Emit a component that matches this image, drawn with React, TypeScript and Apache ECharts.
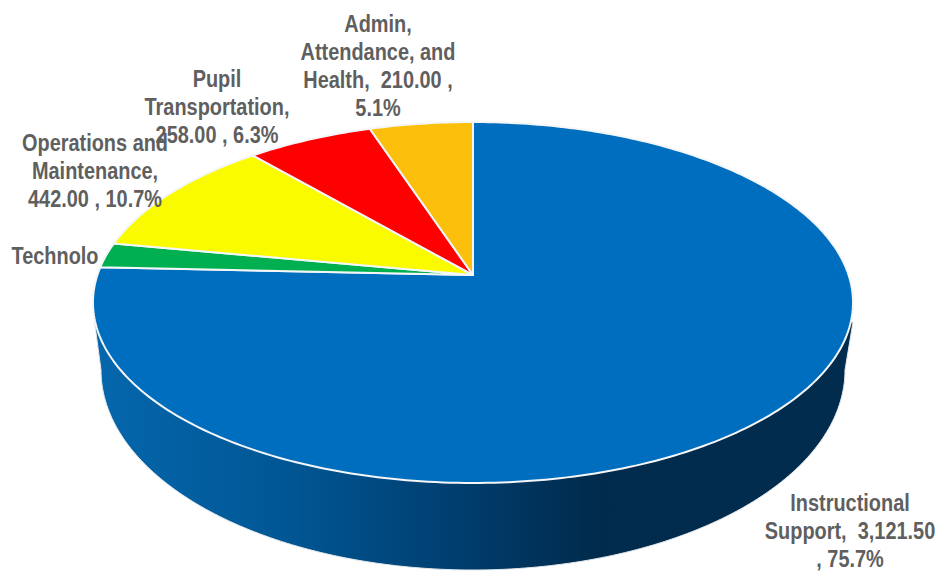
import React, { useEffect, useRef } from "react";
import * as echarts from "echarts";

// Budget slices, clockwise from twelve o'clock
const categories = [
  "Instructional Support",
  "Technology",
  "Operations and Maintenance",
  "Pupil Transportation",
  "Admin, Attendance, and Health",
];
const amounts = [3121.5, 92, 442, 258, 210];
const sliceColors = ["#006ebf", "#00b050", "#fbfb00", "#ff0000", "#fcc00c"];
const sliceLabels = [
  "Instructional\nSupport,  3,121.50\n, 75.7%",
  "Technolo",
  "Operations and\nMaintenance,\n442.00 , 10.7%",
  "Pupil\nTransportation,\n258.00 , 6.3%",
  "Admin,\nAttendance, and\nHealth,  210.00 ,\n5.1%",
];
const labelAnchors = [
  [850, 531],
  [55, 256],
  [95, 171],
  [217, 107],
  [378, 66],
];

// Perspective of the tilted disc: the hub sits above the centre of the outline
const HUB_X = 473;
const HUB_Y = 275;
const RADIUS_X = 375.6;
const RADIUS_Y = 176.3;
const TILT = 0.1523;
const LABEL_SQUEEZE = 0.83;
const total = amounts.reduce((a, b) => a + b, 0);

function project(theta: number): number[] {
  const u = Math.sin(theta);
  const v = Math.cos(theta);
  const w = 1 + TILT * v;
  return [HUB_X + (RADIUS_X * u) / w, HUB_Y - (RADIUS_Y * v) / w];
}

function sliceAngles(index: number): number[] {
  let before = 0;
  for (let i = 0; i < index; i++) before += amounts[i];
  const start = (before / total) * Math.PI * 2;
  return [start, start + (amounts[index] / total) * Math.PI * 2];
}

function slicePoints(index: number): number[][] {
  const [start, end] = sliceAngles(index);
  const steps = Math.max(8, Math.ceil((end - start) * 60));
  const points = [[HUB_X, HUB_Y]];
  for (let i = 0; i <= steps; i++) {
    points.push(project(start + ((end - start) * i) / steps));
  }
  return points;
}

// Side wall: lower rim ellipse joined to the disc's widest points
function wallPoints(): number[][] {
  const points = [[94, 318]];
  const cx = 473;
  const cy = 370;
  const rx = 372;
  const ry = 200;
  for (let i = 0; i <= 180; i++) {
    const a = Math.PI - (Math.PI * i) / 180;
    points.push([cx + rx * Math.cos(a), cy + ry * Math.sin(a)]);
  }
  points.push([853, 322]);
  points.push([473, 300]);
  return points;
}

export default function App() {
  const ref = useRef<HTMLDivElement>(null);

  useEffect(() => {
    const chart = echarts.init(ref.current!, undefined, { renderer: "svg" });
    chart.setOption({
      animation: false,
      backgroundColor: "#ffffff",
      series: [
        {
          type: "custom",
          coordinateSystem: "none",
          z: 1,
          silent: true,
          data: [amounts[0]],
          renderItem: () => ({
            type: "polygon",
            shape: { points: wallPoints() },
            style: {
              fill: new echarts.graphic.LinearGradient(
                0,
                0,
                1,
                0,
                [
                  { offset: 0, color: "#0567ad" },
                  { offset: 0.27, color: "#005592" },
                  { offset: 0.47, color: "#003f70" },
                  { offset: 0.66, color: "#002b4c" },
                  { offset: 1, color: "#012c4e" },
                ],
                false
              ),
              stroke: "#e4e8ec",
              lineWidth: 1,
            },
          }),
        },
        {
          type: "custom",
          coordinateSystem: "none",
          z: 2,
          silent: true,
          data: amounts.map((v, i) => ({ value: v, name: categories[i] })),
          renderItem: (params: any) => ({
            type: "polygon",
            shape: { points: slicePoints(params.dataIndex) },
            style: {
              fill: sliceColors[params.dataIndex],
              stroke: "#f4f6f8",
              lineWidth: 2,
              lineJoin: "round",
            },
          }),
        },
        {
          type: "custom",
          coordinateSystem: "none",
          z: 3,
          silent: true,
          data: amounts,
          renderItem: (params: any) => ({
            type: "text",
            x: labelAnchors[params.dataIndex][0],
            y: labelAnchors[params.dataIndex][1],
            scaleX: LABEL_SQUEEZE,
            style: {
              text: sliceLabels[params.dataIndex],
              fill: "#5f5f5f",
              font: 'bold 24px "Liberation Sans", Arial, sans-serif',
              lineHeight: 28,
              align: "center",
              verticalAlign: "middle",
            },
          }),
        },
      ],
    });
    return () => chart.dispose();
  }, []);

  return (
    <div
      ref={ref}
      style={{ position: "absolute", left: 0, top: 0, width: 937, height: 572 }}
    />
  );
}
